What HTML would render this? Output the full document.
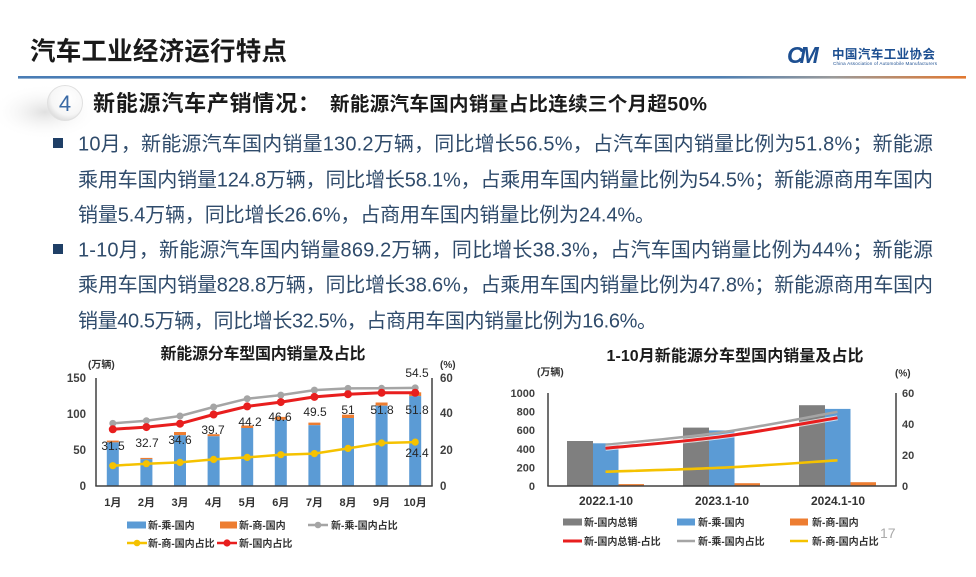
<!DOCTYPE html>
<html>
<head>
<meta charset="utf-8">
<style>
html,body{margin:0;padding:0;background:#fff;}
svg{display:block;}
text{font-family:"Liberation Sans","Noto Sans CJK SC",sans-serif;}
</style>
</head>
<body>
<svg width="976" height="577" viewBox="0 0 976 577" xmlns="http://www.w3.org/2000/svg">
<defs>
  <linearGradient id="hl" x1="0" y1="0" x2="1" y2="0">
    <stop offset="0" stop-color="#4a7db5"/>
    <stop offset="0.74" stop-color="#4f7fb2"/>
    <stop offset="0.86" stop-color="#9a9a9a"/>
    <stop offset="1" stop-color="#e2782f"/>
  </linearGradient>
  <radialGradient id="cg" cx="0.6" cy="0.35" r="0.7">
    <stop offset="0" stop-color="#ffffff"/>
    <stop offset="0.7" stop-color="#f6f6f6"/>
    <stop offset="1" stop-color="#d9d9d9"/>
  </radialGradient>
  <radialGradient id="sg" cx="0.5" cy="0.5" r="0.5">
    <stop offset="0" stop-color="#d8d8d8" stop-opacity="0.8"/>
    <stop offset="1" stop-color="#ffffff" stop-opacity="0"/>
  </radialGradient>
</defs>

<rect width="976" height="577" fill="#fff"/>

<!-- Header -->
<text x="30" y="60" font-size="25.5" font-weight="bold" fill="#1a1a1a" textLength="257">汽车工业经济运行特点</text>
<rect x="18" y="76" width="948" height="2.6" fill="url(#hl)"/>

<!-- Logo -->
<text x="787" y="63" font-size="23" font-weight="bold" font-style="italic" fill="#1d4f91" letter-spacing="-4">CM</text>
<text x="832" y="58.5" font-size="12.5" font-weight="bold" fill="#1d4f91" textLength="103">中国汽车工业协会</text>
<text x="833" y="65" font-size="4.6" fill="#1d4f91" textLength="104">China Association of Automobile Manufacturers</text>

<!-- Section circle -->
<ellipse cx="45" cy="112" rx="55" ry="28" fill="url(#sg)"/>
<circle cx="65" cy="103" r="17.5" fill="url(#cg)" stroke="#e0e0e0" stroke-width="1"/>
<text x="65" y="111" font-size="22" fill="#3a6aa5" text-anchor="middle">4</text>

<text x="93" y="111" font-size="22" font-weight="bold" fill="#1a1a1a" textLength="227">新能源汽车产销情况：</text>
<text x="330" y="110.5" font-size="19.5" font-weight="bold" fill="#1a1a1a" textLength="377">新能源汽车国内销量占比连续三个月超50%</text>

<!-- Body text -->
<rect x="53" y="138" width="10" height="10" fill="#1f3f66"/>
<rect x="53" y="244" width="10" height="10" fill="#1f3f66"/>
<g font-size="20" fill="#2f4b6b">
<text x="78" y="150.6" textLength="855">10月，新能源汽车国内销量130.2万辆，同比增长56.5%，占汽车国内销量比例为51.8%；新能源</text>
<text x="78" y="186.6" textLength="855">乘用车国内销量124.8万辆，同比增长58.1%，占乘用车国内销量比例为54.5%；新能源商用车国内</text>
<text x="78" y="221.6" textLength="577">销量5.4万辆，同比增长26.6%，占商用车国内销量比例为24.4%。</text>
<text x="78" y="256.6" textLength="855">1-10月，新能源汽车国内销量869.2万辆，同比增长38.3%，占汽车国内销量比例为44%；新能源</text>
<text x="78" y="291.6" textLength="855">乘用车国内销量828.8万辆，同比增长38.6%，占乘用车国内销量比例为47.8%；新能源商用车国内</text>
<text x="78" y="327.6" textLength="579">销量40.5万辆，同比增长32.5%，占商用车国内销量比例为16.6%。</text>
</g>

<!-- ============ LEFT CHART ============ -->
<text x="263" y="359" font-size="16" font-weight="bold" fill="#1a1a1a" text-anchor="middle" textLength="205">新能源分车型国内销量及占比</text>
<text x="88" y="368" font-size="10" font-weight="bold" fill="#333">(万辆)</text>
<text x="440" y="368" font-size="10" font-weight="bold" fill="#333">(%)</text>

<g font-size="11.5" font-weight="bold" fill="#404040">
  <text x="86" y="382" text-anchor="end">150</text>
  <text x="86" y="418" text-anchor="end">100</text>
  <text x="86" y="454" text-anchor="end">50</text>
  <text x="86" y="490" text-anchor="end">0</text>
  <text x="440" y="382">60</text>
  <text x="440" y="417">40</text>
  <text x="440" y="454">20</text>
  <text x="440" y="490">0</text>
</g>

<!-- bars -->
<g fill="#ed7d31">
  <rect x="106.8" y="440.6" width="12" height="1.8"/>
  <rect x="140.4" y="457.9" width="12" height="1.4"/>
  <rect x="174.0" y="432.0" width="12" height="3.2"/>
  <rect x="207.6" y="434.2" width="12" height="2.1"/>
  <rect x="241.2" y="425.5" width="12" height="2.5"/>
  <rect x="274.8" y="416.9" width="12" height="2.9"/>
  <rect x="308.4" y="422.6" width="12" height="2.6"/>
  <rect x="342.0" y="414.7" width="12" height="3.3"/>
  <rect x="375.6" y="402.5" width="12" height="3.2"/>
  <rect x="409.2" y="392.3" width="12" height="3.8"/>
</g>
<g fill="#5b9bd5">
  <rect x="106.8" y="442.4" width="12" height="43.6"/>
  <rect x="140.4" y="459.2" width="12" height="26.8"/>
  <rect x="174.0" y="435.2" width="12" height="50.8"/>
  <rect x="207.6" y="436.3" width="12" height="49.7"/>
  <rect x="241.2" y="428.0" width="12" height="58.0"/>
  <rect x="274.8" y="419.8" width="12" height="66.2"/>
  <rect x="308.4" y="425.2" width="12" height="60.8"/>
  <rect x="342.0" y="418.0" width="12" height="68.0"/>
  <rect x="375.6" y="405.7" width="12" height="80.3"/>
  <rect x="409.2" y="396.1" width="12" height="89.9"/>
</g>

<!-- axes -->
<g stroke="#404040" stroke-width="1.5" fill="none">
  <line x1="96" y1="378" x2="96" y2="486"/>
  <line x1="432" y1="378" x2="432" y2="486"/>
  <line x1="95.3" y1="486" x2="432.7" y2="486"/>
</g>

<!-- lines -->
<polyline fill="none" stroke="#a5a5a5" stroke-width="2.5" points="112.8,423.4 146.4,420.7 180,416 213.6,407 247.2,398.7 280.8,395.1 314.4,390.1 348,388.4 381.6,388.3 415.2,387.9"/>
<g fill="#a5a5a5">
  <circle cx="112.8" cy="423.4" r="3.5"/><circle cx="146.4" cy="420.7" r="3.5"/><circle cx="180" cy="416" r="3.5"/><circle cx="213.6" cy="407" r="3.5"/><circle cx="247.2" cy="398.7" r="3.5"/><circle cx="280.8" cy="395.1" r="3.5"/><circle cx="314.4" cy="390.1" r="3.5"/><circle cx="348" cy="388.4" r="3.5"/><circle cx="381.6" cy="388.3" r="3.5"/><circle cx="415.2" cy="387.9" r="3.5"/>
</g>
<polyline fill="none" stroke="#e81e1e" stroke-width="3" points="112.8,429.3 146.4,427.1 180,423.7 213.6,414.5 247.2,406.4 280.8,402.1 314.4,396.9 348,394.2 381.6,392.8 415.2,392.8"/>
<g fill="#e81e1e">
  <circle cx="112.8" cy="429.3" r="4"/><circle cx="146.4" cy="427.1" r="4"/><circle cx="180" cy="423.7" r="4"/><circle cx="213.6" cy="414.5" r="4"/><circle cx="247.2" cy="406.4" r="4"/><circle cx="280.8" cy="402.1" r="4"/><circle cx="314.4" cy="396.9" r="4"/><circle cx="348" cy="394.2" r="4"/><circle cx="381.6" cy="392.8" r="4"/><circle cx="415.2" cy="392.8" r="4"/>
</g>
<polyline fill="none" stroke="#f5c200" stroke-width="2.5" points="112.8,465.7 146.4,463.7 180,462.4 213.6,459.4 247.2,457.4 280.8,454.7 314.4,453.6 348,448.4 381.6,443 415.2,442.1"/>
<g fill="#f5c200">
  <circle cx="112.8" cy="465.7" r="3.6"/><circle cx="146.4" cy="463.7" r="3.6"/><circle cx="180" cy="462.4" r="3.6"/><circle cx="213.6" cy="459.4" r="3.6"/><circle cx="247.2" cy="457.4" r="3.6"/><circle cx="280.8" cy="454.7" r="3.6"/><circle cx="314.4" cy="453.6" r="3.6"/><circle cx="348" cy="448.4" r="3.6"/><circle cx="381.6" cy="443" r="3.6"/><circle cx="415.2" cy="442.1" r="3.6"/>
</g>

<!-- data labels -->
<g font-size="12" fill="#262626" text-anchor="middle">
  <text x="113" y="450">31.5</text>
  <text x="147" y="447">32.7</text>
  <text x="180" y="444">34.6</text>
  <text x="213" y="434">39.7</text>
  <text x="250" y="426">44.2</text>
  <text x="280" y="421">46.6</text>
  <text x="315" y="416">49.5</text>
  <text x="348" y="414">51</text>
  <text x="382" y="414">51.8</text>
  <text x="417" y="414">51.8</text>
  <text x="417" y="377">54.5</text>
  <text x="417" y="457">24.4</text>
</g>

<!-- x labels -->
<g font-size="11" font-weight="bold" fill="#333" text-anchor="middle">
  <text x="112.8" y="506">1月</text>
  <text x="146.4" y="506">2月</text>
  <text x="180" y="506">3月</text>
  <text x="213.6" y="506">4月</text>
  <text x="247.2" y="506">5月</text>
  <text x="280.8" y="506">6月</text>
  <text x="314.4" y="506">7月</text>
  <text x="348" y="506">8月</text>
  <text x="381.6" y="506">9月</text>
  <text x="415.2" y="506">10月</text>
</g>

<!-- left legend -->
<rect x="127" y="521.5" width="19" height="7" fill="#5b9bd5"/>
<rect x="220" y="521.5" width="17" height="7" fill="#ed7d31"/>
<line x1="308" y1="525" x2="328" y2="525" stroke="#a5a5a5" stroke-width="2.5"/>
<circle cx="318" cy="525" r="3.3" fill="#a5a5a5"/>
<line x1="127" y1="543" x2="147" y2="543" stroke="#f5c200" stroke-width="2.5"/>
<circle cx="137" cy="543" r="3.3" fill="#f5c200"/>
<line x1="217" y1="543" x2="237" y2="543" stroke="#e81e1e" stroke-width="2.5"/>
<circle cx="227" cy="543" r="3.6" fill="#e81e1e"/>
<g font-size="10" font-weight="bold" fill="#333">
  <text x="148" y="528.8">新-乘-国内</text>
  <text x="239" y="528.8">新-商-国内</text>
  <text x="331" y="528.8">新-乘-国内占比</text>
  <text x="148" y="546.8">新-商-国内占比</text>
  <text x="239" y="546.8">新-国内占比</text>
</g>

<!-- ============ RIGHT CHART ============ -->
<text x="735" y="361" font-size="16" font-weight="bold" fill="#1a1a1a" text-anchor="middle" textLength="257">1-10月新能源分车型国内销量及占比</text>
<text x="537" y="375.5" font-size="10" font-weight="bold" fill="#333">(万辆)</text>
<text x="895" y="376.5" font-size="10" font-weight="bold" fill="#333">(%)</text>

<g font-size="11" font-weight="bold" fill="#404040">
  <text x="535" y="397" text-anchor="end">1000</text>
  <text x="535" y="415.6" text-anchor="end">800</text>
  <text x="535" y="434.2" text-anchor="end">600</text>
  <text x="535" y="452.8" text-anchor="end">400</text>
  <text x="535" y="471.4" text-anchor="end">200</text>
  <text x="535" y="490" text-anchor="end">0</text>
  <text x="902" y="397">60</text>
  <text x="902" y="428">40</text>
  <text x="902" y="459">20</text>
  <text x="902" y="490">0</text>
</g>

<!-- bars -->
<g fill="#7f7f7f">
  <rect x="567" y="441.0" width="26" height="45.0"/>
  <rect x="683" y="427.6" width="26" height="58.4"/>
  <rect x="799" y="405.2" width="26" height="80.8"/>
</g>
<g fill="#5b9bd5">
  <rect x="593" y="443.3" width="25.5" height="42.7"/>
  <rect x="709" y="430.4" width="25.5" height="55.6"/>
  <rect x="825" y="408.9" width="25.5" height="77.1"/>
</g>
<g fill="#ed7d31">
  <rect x="618.5" y="484.1" width="25.5" height="1.9"/>
  <rect x="734.5" y="483.2" width="25.5" height="2.8"/>
  <rect x="850.5" y="482.2" width="25.5" height="3.8"/>
</g>

<g stroke="#404040" stroke-width="1.5" fill="none">
  <line x1="548" y1="393" x2="548" y2="486"/>
  <line x1="896" y1="393" x2="896" y2="486"/>
  <line x1="547.3" y1="486" x2="896.7" y2="486"/>
</g>

<!-- smooth lines -->
<path d="M605.5,471.7 C624.8,471.0 682.8,469.6 721.5,467.7 C760.2,465.8 818.2,461.5 837.5,460.3" fill="none" stroke="#f5c200" stroke-width="2.6"/>
<path d="M605.5,444.9 C624.8,442.8 682.8,437.9 721.5,432.4 C760.2,426.9 818.2,415.3 837.5,411.9" fill="none" stroke="#a5a5a5" stroke-width="2.6"/>
<path d="M605.5,448.3 C624.8,446.4 682.8,441.8 721.5,436.7 C760.2,431.6 818.2,421.0 837.5,417.8" fill="none" stroke="#ffffff" stroke-width="5" opacity="0.7"/>
<path d="M605.5,448.3 C624.8,446.4 682.8,441.8 721.5,436.7 C760.2,431.6 818.2,421.0 837.5,417.8" fill="none" stroke="#e81e1e" stroke-width="3"/>

<g font-size="12" font-weight="bold" fill="#333" text-anchor="middle">
  <text x="606" y="505">2022.1-10</text>
  <text x="722" y="505">2023.1-10</text>
  <text x="838" y="505">2024.1-10</text>
</g>

<!-- right legend -->
<rect x="563" y="518.5" width="19" height="7" fill="#7f7f7f"/>
<rect x="677" y="518.5" width="18" height="7" fill="#5b9bd5"/>
<rect x="790" y="518.5" width="18" height="7" fill="#ed7d31"/>
<line x1="563" y1="541" x2="582" y2="541" stroke="#e81e1e" stroke-width="3"/>
<line x1="677" y1="541" x2="695" y2="541" stroke="#a5a5a5" stroke-width="2.5"/>
<line x1="790" y1="541" x2="808" y2="541" stroke="#f5c200" stroke-width="2.5"/>
<g font-size="10" font-weight="bold" fill="#333">
  <text x="584" y="525.8">新-国内总销</text>
  <text x="698" y="525.8">新-乘-国内</text>
  <text x="812" y="525.8">新-商-国内</text>
  <text x="584" y="544.8">新-国内总销-占比</text>
  <text x="698" y="544.8">新-乘-国内占比</text>
  <text x="812" y="544.8">新-商-国内占比</text>
</g>
<text x="880" y="538" font-size="14" fill="#aaaaaa">17</text>

</svg>
</body>
</html>
